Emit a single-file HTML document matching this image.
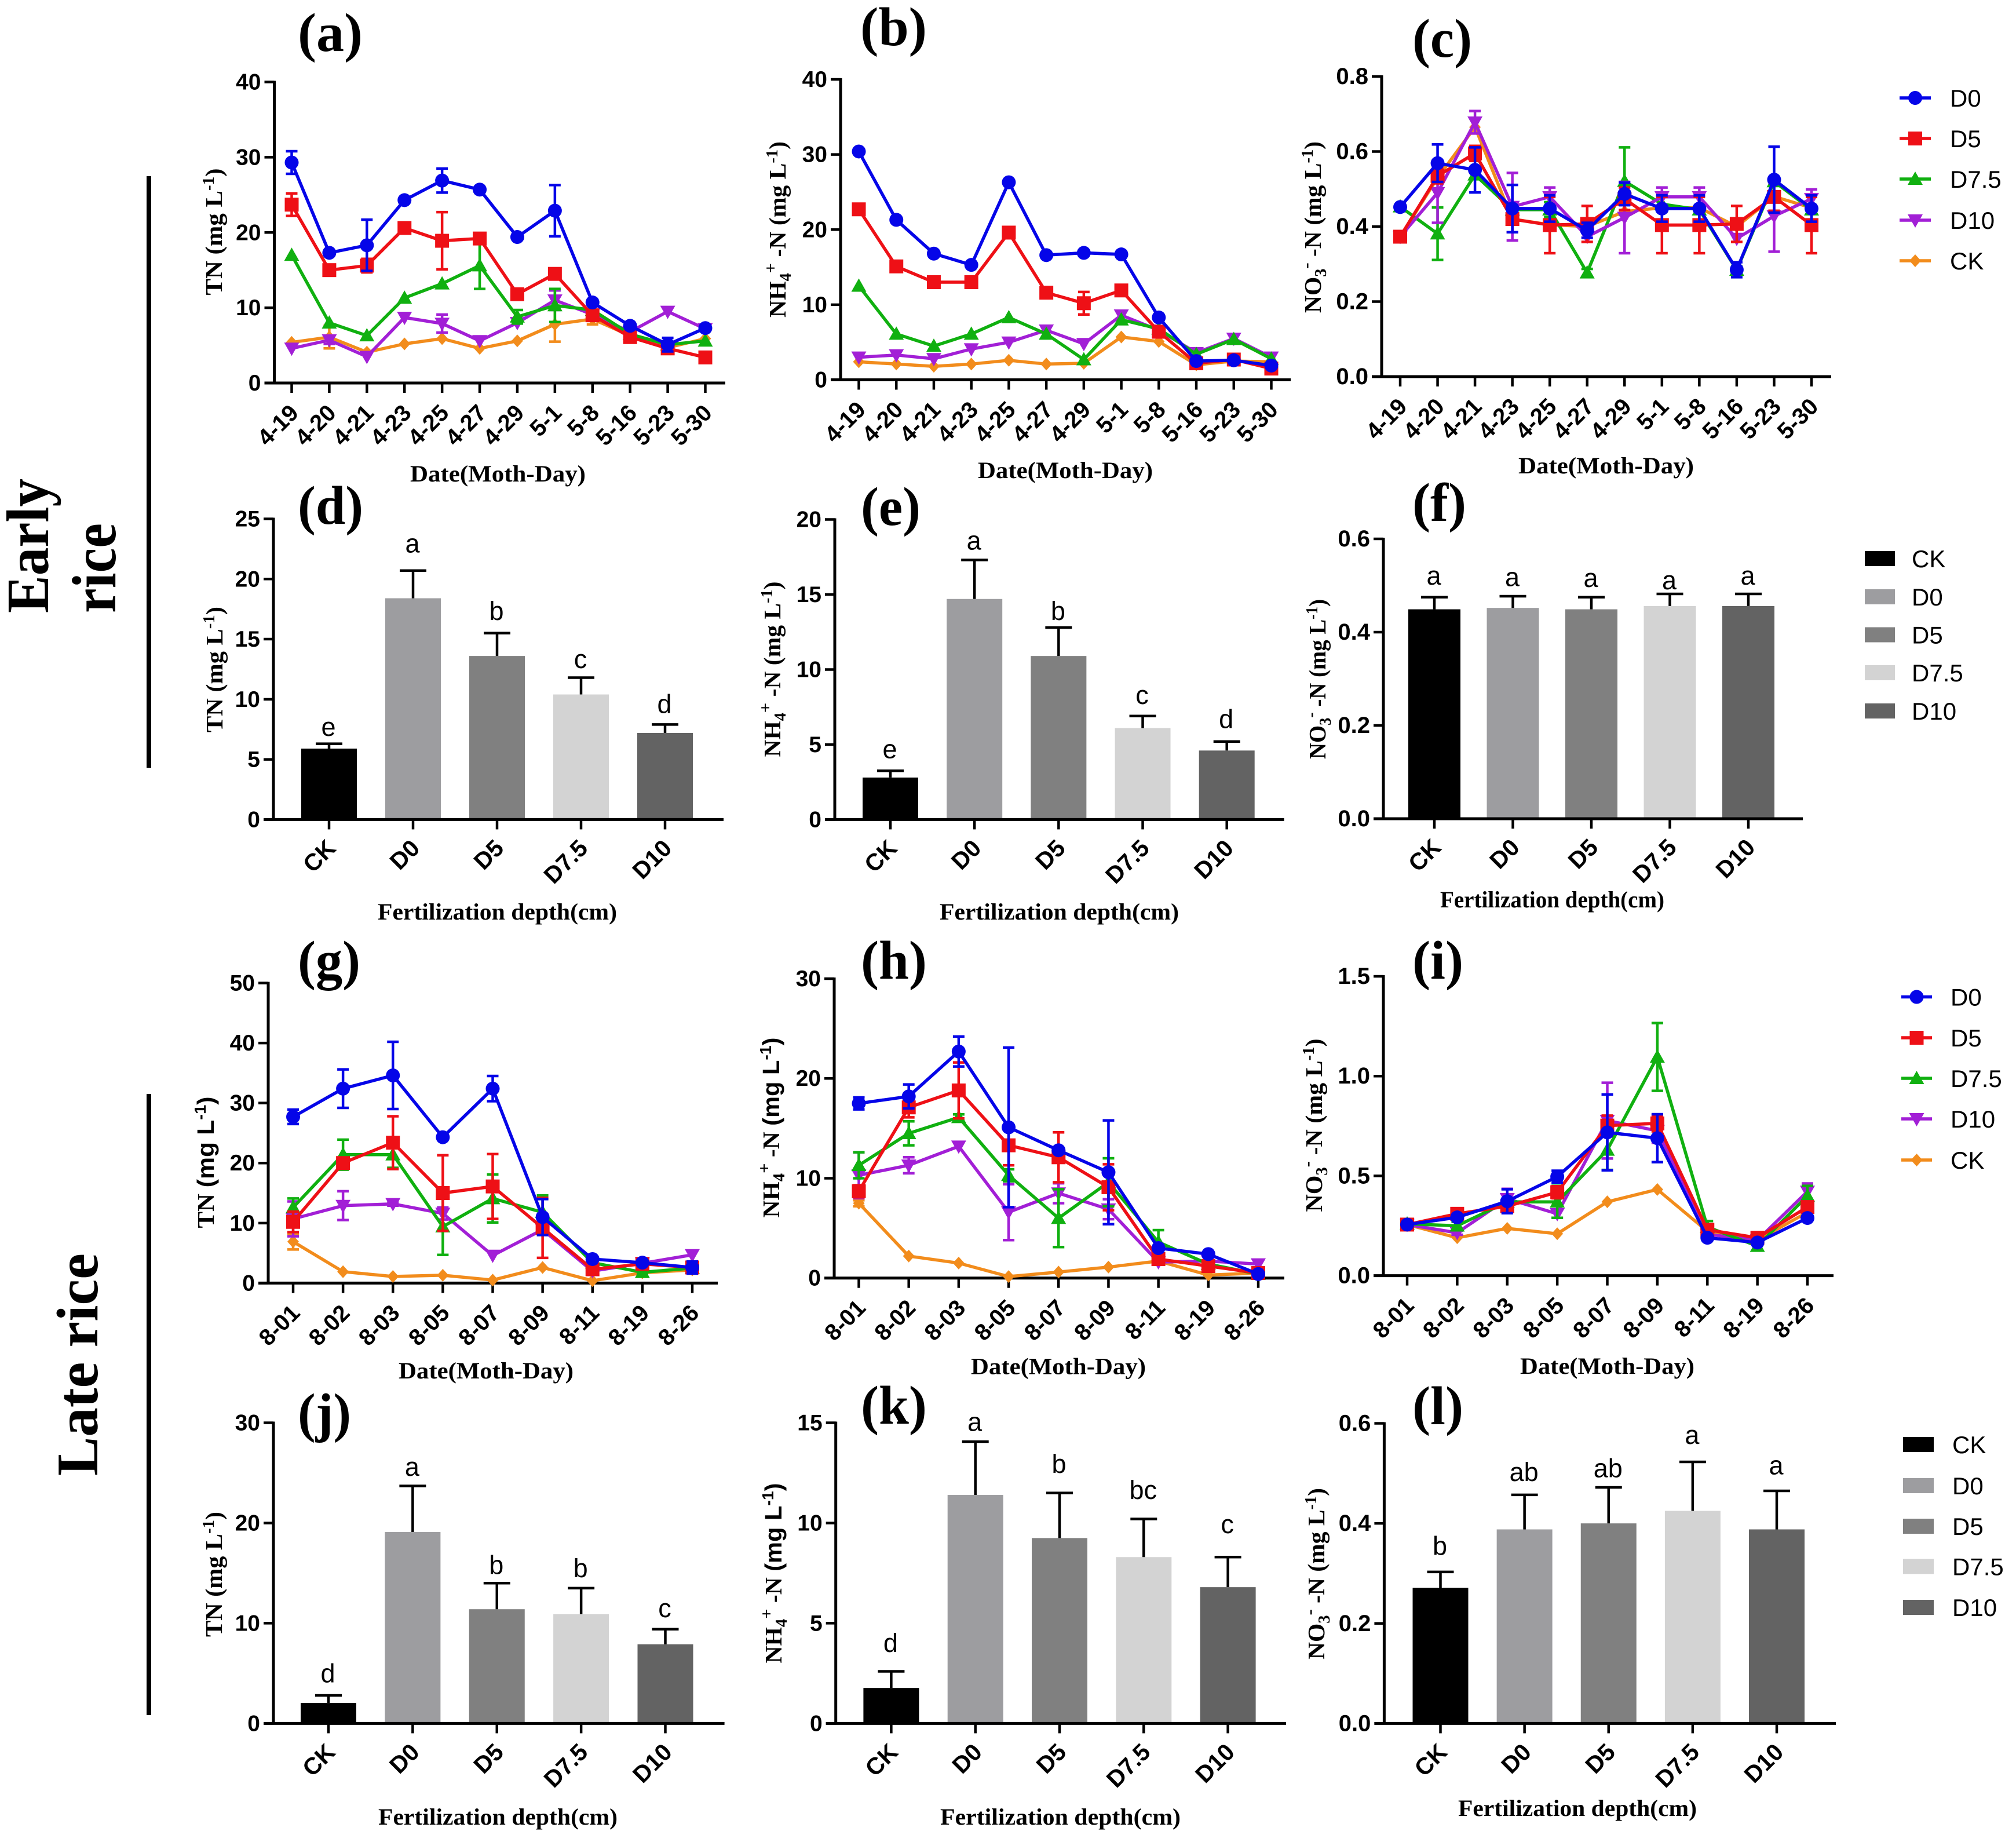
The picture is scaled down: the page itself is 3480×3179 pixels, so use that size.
<!DOCTYPE html>
<html lang="en">
<head>
<meta charset="utf-8">
<title>Nitrogen concentrations under fertilization depths</title>
<style>
html,body{margin:0;padding:0;background:#fff;}
svg{display:block;}
</style>
</head>
<body>
<svg id="figure" xmlns="http://www.w3.org/2000/svg" width="3480" height="3179" viewBox="0 0 3480 3179">
<rect x="0" y="0" width="3480" height="3179" fill="#ffffff"/>
<rect x="253" y="304" width="8" height="1021" fill="#000"/>
<rect x="253" y="1888" width="8" height="1072" fill="#000"/>
<text transform="rotate(-90 83 1058)" x="83" y="1058" font-family="'Liberation Serif',serif" font-weight="bold" font-size="104" textLength="232" lengthAdjust="spacingAndGlyphs">Early</text>
<text transform="rotate(-90 199 1058)" x="199" y="1058" font-family="'Liberation Serif',serif" font-weight="bold" font-size="108" textLength="155" lengthAdjust="spacingAndGlyphs">rice</text>
<text transform="rotate(-90 168 2547)" x="168" y="2547" font-family="'Liberation Serif',serif" font-weight="bold" font-size="102" textLength="384" lengthAdjust="spacingAndGlyphs">Late rice</text>
</svg>
<script>
// ---------- Shared categories ----------
const earlyDates = ['4-19','4-20','4-21','4-23','4-25','4-27','4-29','5-1','5-8','5-16','5-23','5-30'];
const lateDates = ['8-01','8-02','8-03','8-05','8-07','8-09','8-11','8-19','8-26'];
const barCategories = ['CK','D0','D5','D7.5','D10'];
const lineLegendNames = ['D0','D5','D7.5','D10','CK'];

// ---------- Tick labels ----------
const ticksA = ['0','10','20','30','40'];
const ticksB = ['0','10','20','30','40'];
const ticksC = ['0.0','0.2','0.4','0.6','0.8'];
const ticksD = ['0','5','10','15','20','25'];
const ticksE = ['0','5','10','15','20'];
const ticksF = ['0.0','0.2','0.4','0.6'];
const ticksG = ['0','10','20','30','40','50'];
const ticksH = ['0','10','20','30'];
const ticksI = ['0.0','0.5','1.0','1.5'];
const ticksJ = ['0','10','20','30'];
const ticksK = ['0','5','10','15'];
const ticksL = ['0.0','0.2','0.4','0.6'];

// ---------- Panel (a) TN early ----------
const aD0 = [29.3,17.3,18.3,24.3,26.9,25.7,19.4,22.9,10.7,7.6,5.1,7.3];
const aD5 = [23.7,15.0,15.6,20.6,18.9,19.2,11.8,14.5,9.0,6.1,4.6,3.4];
const aD75 = [17.0,8.0,6.3,11.3,13.2,15.6,8.8,10.3,9.7,6.5,5.1,5.6];
const aD10 = [4.6,5.7,3.5,8.7,7.9,5.6,8.0,11.0,9.1,6.8,9.5,7.2];
const aCK = [5.4,6.1,4.1,5.2,5.9,4.6,5.6,7.8,8.5,6.3,4.7,5.9];
const aErrD0 = [1.5,0,3.4,0,1.6,0,0,3.4,0,0,0.9,0];
const aErrD5 = [1.5,0.6,0.9,0,3.8,0,0,0,0.7,0,0,0];
const aErrD75 = [0,0,0,0,0,3.1,0.9,2.2,0,0,0,0];
const aErrD10 = [0,0.5,0,0,1.2,0,0,1.3,0,0,0,0];
const aErrCK = [0,1.5,0,0,0,0,0,2.3,0.7,0,0,0];

// ---------- Panel (b) NH4 early ----------
const bD0 = [30.4,21.3,16.8,15.3,26.3,16.6,16.9,16.7,8.3,2.5,2.6,1.9];
const bD5 = [22.7,15.1,13.0,13.0,19.6,11.6,10.2,11.9,6.4,2.2,2.7,1.5];
const bD75 = [12.5,6.1,4.5,6.1,8.3,6.1,2.7,8.0,6.8,3.4,5.4,2.8];
const bD10 = [3.0,3.3,2.8,4.1,5.0,6.6,4.8,8.6,6.6,3.6,5.5,3.0];
const bCK = [2.4,2.1,1.8,2.1,2.6,2.1,2.2,5.7,5.1,2.0,2.5,2.4];
const bErrD0 = [0,0,0,0,0,0,0,0,0,0,0,0];
const bErrD5 = [0,0,0,0,0,0,1.5,0,0,0,0,0];
const bErrD75 = [0,0,0,0,0,0,0,0,0,0,0,0];
const bErrD10 = [0,0,0,0,0,0,0,0,0,0,0,0];
const bErrCK = [0,0,0,0,0,0,0,0,0,0,0,0];

// ---------- Panel (c) NO3 early ----------
const cD0 = [0.452,0.569,0.551,0.448,0.448,0.39,0.487,0.448,0.448,0.285,0.525,0.448];
const cD5 = [0.373,0.535,0.595,0.42,0.404,0.407,0.474,0.404,0.404,0.407,0.479,0.404];
const cD75 = [0.453,0.381,0.538,0.445,0.445,0.277,0.521,0.46,0.445,0.284,0.52,0.445];
const cD10 = [0.373,0.49,0.678,0.453,0.479,0.373,0.424,0.479,0.479,0.368,0.428,0.474];
const cCK = [0.373,0.53,0.665,0.42,0.405,0.40,0.44,0.45,0.45,0.40,0.48,0.45];
const cErrD0 = [0,0.05,0.06,0.063,0.035,0.02,0.03,0.035,0.035,0.02,0.088,0.035];
const cErrD5 = [0.01,0.02,0.02,0.035,0.075,0.048,0.03,0.075,0.075,0.048,0.037,0.075];
const cErrD75 = [0,0.07,0,0,0.02,0.01,0.09,0.02,0,0.01,0,0];
const cErrD10 = [0,0.08,0.03,0.09,0.025,0,0.095,0.025,0.025,0,0.095,0.025];
const cErrCK = [0,0,0,0,0,0,0,0,0,0,0,0];

// ---------- Panel (g) TN late ----------
const gD0 = [27.7,32.4,34.6,24.3,32.4,11.0,4.0,3.4,2.6];
const gD5 = [10.2,20.0,23.4,15.0,16.1,9.2,2.3,3.2,2.6];
const gD75 = [12.6,21.4,21.4,9.4,14.1,11.8,3.4,1.8,2.5];
const gD10 = [10.7,12.9,13.2,11.6,4.6,8.9,2.0,3.3,4.7];
const gCK = [6.9,1.9,1.1,1.3,0.5,2.6,0.4,1.7,2.2];
const gErrD0 = [1.2,3.2,5.6,0,2.1,3.0,0,0,1.0];
const gErrD5 = [1.7,0.5,4.4,6.3,5.4,5.0,0,0,1.0];
const gErrD75 = [1.5,2.5,2.2,4.7,4.0,2.8,0,0.3,0];
const gErrD10 = [2.9,2.4,0.3,1.0,0,0.7,0,0,0];
const gErrCK = [1.3,0,0,0,0,0,0,0,0];

// ---------- Panel (h) NH4 late ----------
const hD0 = [17.5,18.2,22.7,15.1,12.8,10.6,3.0,2.4,0.4];
const hD5 = [8.7,17.1,18.8,13.3,12.1,9.1,1.9,1.2,0.5];
const hD75 = [11.3,14.5,16.1,10.3,6.0,9.6,3.6,1.4,0.4];
const hD10 = [10.3,11.3,13.2,6.6,8.5,6.9,1.6,1.7,1.4];
const hCK = [7.5,2.2,1.5,0.15,0.6,1.1,1.7,0.3,0.5];
const hErrD0 = [0.6,1.2,1.5,8.0,0,5.2,0,0,0];
const hErrD5 = [0.6,1.0,2.8,2.0,2.5,2.3,0.3,0.3,0];
const hErrD75 = [1.3,1.2,0.3,0.6,2.9,2.4,1.2,0,0];
const hErrD10 = [2.3,0.8,0,2.8,1.0,1.0,0,0,0];
const hErrCK = [0.3,0,0,0,0,0,0.3,0,0];

// ---------- Panel (i) NO3 late ----------
const iD0 = [0.256,0.292,0.373,0.496,0.718,0.689,0.19,0.166,0.289];
const iD5 = [0.256,0.31,0.348,0.418,0.752,0.763,0.23,0.19,0.344];
const iD75 = [0.26,0.25,0.37,0.37,0.63,1.096,0.244,0.148,0.40];
const iD10 = [0.256,0.215,0.385,0.31,0.777,0.726,0.207,0.178,0.422];
const iCK = [0.256,0.19,0.237,0.21,0.37,0.432,0.222,0.178,0.318];
const iErrD0 = [0,0.01,0.06,0.03,0.19,0.12,0,0,0];
const iErrD5 = [0,0.01,0.01,0.03,0.05,0.04,0,0,0];
const iErrD75 = [0,0.02,0.01,0.08,0.10,0.17,0.03,0.02,0.05];
const iErrD10 = [0,0.01,0.05,0.02,0.19,0.06,0,0,0.04];
const iErrCK = [0,0,0,0,0,0,0,0,0];

// ---------- Bar panels: means, upper error limits, significance letters ----------
const dMeans = [5.9,18.4,13.6,10.4,7.2];
const dUpper = [6.3,20.7,15.5,11.8,7.9];
const dLetters = ['e','a','b','c','d'];
const dLetterLevels = [6.96,22.2,16.6,12.6,8.85];

const eMeans = [2.8,14.7,10.9,6.1,4.6];
const eUpper = [3.25,17.3,12.8,6.9,5.2];
const eLetters = ['e','a','b','c','d'];
const eLetterLevels = [4.08,18.0,13.3,7.7,6.1];

const fMeans = [0.449,0.452,0.449,0.456,0.456];
const fUpper = [0.475,0.477,0.475,0.482,0.482];
const fLetters = ['a','a','a','a','a'];
const fLetterLevels = [0.502,0.499,0.497,0.492,0.502];

const jMeans = [2.04,19.1,11.4,10.9,7.9];
const jUpper = [2.8,23.7,14.0,13.5,9.4];
const jLetters = ['d','a','b','b','c'];
const jLetterLevels = [4.1,24.7,14.9,14.6,10.6];

const kMeans = [1.77,11.4,9.25,8.3,6.8];
const kUpper = [2.6,14.06,11.5,10.2,8.3];
const kLetters = ['d','a','b','bc','c'];
const kLetterLevels = [3.57,14.6,12.5,11.2,9.5];

const lMeans = [0.271,0.388,0.40,0.425,0.388];
const lUpper = [0.303,0.457,0.472,0.523,0.465];
const lLetters = ['b','ab','ab','a','a'];
const lLetterLevels = [0.337,0.485,0.492,0.559,0.498];

// ---------- Styles ----------
const lineStyles = {
  D0:{color:'#0505e8',marker:'circle'},
  D5:{color:'#ee1016',marker:'square'},
  'D7.5':{color:'#10b010',marker:'up'},
  D10:{color:'#a21fd6',marker:'down'},
  CK:{color:'#f28c1c',marker:'diamond'}
};
const barFills = {CK:'#000000',D0:'#9d9da0',D5:'#808080','D7.5':'#d3d3d3',D10:'#636363'};

const svg = document.getElementById('figure');
const NS = 'http://www.w3.org/2000/svg';
const SERIF = "'Liberation Serif',serif";
const SANS = "'Liberation Sans',sans-serif";

function mk(tag, attrs, parent) {
  const node = document.createElementNS(NS, tag);
  for (const k in attrs) node.setAttribute(k, attrs[k]);
  parent.appendChild(node);
  return node;
}

function drawMarker(parent, kind, cx, cy, color) {
  let m;
  if (kind === 'circle') m = mk('circle', {cx:cx, cy:cy, r:12, fill:color}, parent);
  else if (kind === 'square') m = mk('rect', {x:cx-12, y:cy-12, width:24, height:24, fill:color}, parent);
  else if (kind === 'up') m = mk('polygon', {points:`${cx-13},${cy+10} ${cx+13},${cy+10} ${cx},${cy-13}`, fill:color}, parent);
  else if (kind === 'down') m = mk('polygon', {points:`${cx-13},${cy-10} ${cx+13},${cy-10} ${cx},${cy+13}`, fill:color}, parent);
  else m = mk('polygon', {points:`${cx-10},${cy} ${cx},${cy-11} ${cx+10},${cy} ${cx},${cy+11}`, fill:color}, parent);
  return m;
}

function drawAxes(g, box, ticks, yOf, tickSize) {
  const xAxis = mk('line', {x1:box.axisX-17, x2:box.xEnd, y1:box.y0, y2:box.y0, stroke:'#000', 'stroke-width':5}, g);
  
  
  const yAxis = mk('line', {x1:box.axisX, x2:box.axisX, y1:box.y0+2, y2:box.yTop-2, stroke:'#000', 'stroke-width':5}, g);
  
  
  ticks.forEach(function (label) {
    const y = yOf(Number(label));
    const t = mk('line', {x1:box.axisX-17, x2:box.axisX, y1:y, y2:y, stroke:'#000', 'stroke-width':4.5}, g);
    
    
    const txt = mk('text', {x:box.axisX-23, y:y+13, 'text-anchor':'end', 'font-family':SANS, 'font-weight':'bold', 'font-size':tickSize}, g);
    txt.textContent = label;
    
    
  });
}

function drawXTick(g, x, y0, label, size, dx, dy) {
  const t = mk('line', {x1:x, x2:x, y1:y0, y2:y0+17, stroke:'#000', 'stroke-width':4.5}, g);
  
  
  const lx = x + dx, ly = y0 + dy;
  const txt = mk('text', {x:lx, y:ly, 'text-anchor':'end', transform:`rotate(-45 ${lx} ${ly})`, 'font-family':SANS, 'font-weight':'bold', 'font-size':size}, g);
  txt.textContent = label;
  
  
}

function drawPanelLetter(g, text, p) {
  const t = mk('text', {x:p.x, y:p.y, 'font-family':SERIF, 'font-weight':'bold', 'font-size':94, textLength:p.w, lengthAdjust:'spacingAndGlyphs'}, g);
  t.textContent = text;
  
  
}

function drawXTitle(g, text, p) {
  const t = mk('text', {x:p.x, y:p.y, 'font-family':SERIF, 'font-weight':'bold', 'font-size':40, textLength:p.w, lengthAdjust:'spacingAndGlyphs'}, g);
  t.textContent = text;
  
  
}

function drawYTitle(g, species, p, sansUnit) {
  const t = mk('text', {x:p.x, y:p.c, 'text-anchor':'middle', transform:`rotate(-90 ${p.x} ${p.c})`, 'font-family':SERIF, 'font-weight':'bold', 'font-size':41, textLength:p.l, lengthAdjust:'spacingAndGlyphs'}, g);
  
  
  function seg(text, dy, size, fam) {
    const s = mk('tspan', {}, t);
    if (dy) s.setAttribute('dy', dy);
    if (size) s.setAttribute('font-size', size);
    if (fam) s.setAttribute('font-family', fam);
    s.textContent = text;
  }
  if (species === 'TN') seg('TN ');
  if (species === 'NH4') { seg('NH'); seg('4', 9, 28); seg('+', -25, 30); seg(' -N ', 16); }
  if (species === 'NO3') { seg('NO'); seg('3', 9, 28); seg('-', -25, 30); seg(' -N ', 16); }
  const fam = sansUnit ? SANS : SERIF;
  seg('(mg L', 0, 0, fam);
  seg('-1', -14, 28, fam);
  seg(')', 14, 0, fam);
}

function drawLinePanel(cfg) {
  const g = mk('g', {}, svg);
  
  
  const b = cfg.box;
  const n = cfg.cats.length;
  const xOf = function (i) { return b.xFirst + (b.xLast - b.xFirst) * i / (n - 1); };
  const yOf = function (v) { return b.y0 + (b.yTop - b.y0) * v / cfg.yMax; };
  drawAxes(g, b, cfg.ticks, yOf, cfg.tickSize);
  cfg.cats.forEach(function (c, i) { drawXTick(g, xOf(i), b.y0, c, 40, 14, 54); });
  cfg.series.forEach(function (s) {
    const style = lineStyles[s.key];
    const sg = mk('g', {}, g);
    
    
    s.vals.forEach(function (v, i) {
      const e = s.errs[i];
      if (!e) return;
      const x = xOf(i), top = yOf(v + e), bot = yOf(Math.max(0, v - e));
      const bar = mk('path', {d:`M${x-10} ${top}H${x+10}M${x} ${top}V${bot}M${x-10} ${bot}H${x+10}`, fill:'none', stroke:style.color, 'stroke-width':4.5}, sg);
      
      
    });
    const pts = s.vals.map(function (v, i) { return xOf(i).toFixed(1) + ',' + yOf(v).toFixed(1); }).join(' ');
    const line = mk('polyline', {points:pts, fill:'none', stroke:style.color, 'stroke-width':5.5, 'stroke-linejoin':'round'}, sg);
    
    
    s.vals.forEach(function (v, i) {
      const m = drawMarker(sg, style.marker, xOf(i), yOf(v), style.color);
      
      
    });
  });
  drawPanelLetter(g, cfg.letter, cfg.letterPos);
  drawXTitle(g, 'Date(Moth-Day)', cfg.xTitle);
  drawYTitle(g, cfg.species, cfg.yTitle, cfg.sansUnit);
}

function drawBarPanel(cfg) {
  const g = mk('g', {}, svg);
  
  
  const b = cfg.box;
  const n = barCategories.length;
  const xOf = function (i) { return b.xFirst + (b.xLast - b.xFirst) * i / (n - 1); };
  const yOf = function (v) { return b.y0 + (b.yTop - b.y0) * v / cfg.yMax; };
  barCategories.forEach(function (c, i) {
    const cx = xOf(i);
    const top = yOf(cfg.means[i]);
    const rect = mk('rect', {x:cx-b.barW/2, y:top, width:b.barW, height:b.y0-top, fill:barFills[c]}, g);
    
    
    const upper = yOf(cfg.upper[i]);
    const err = mk('path', {d:`M${cx} ${top}V${upper}M${cx-23} ${upper}H${cx+23}`, fill:'none', stroke:'#000', 'stroke-width':4.5}, g);
    
    
    const lt = mk('text', {x:cx-1, y:yOf(cfg.levels[i]), 'text-anchor':'middle', 'font-family':SANS, 'font-size':45}, g);
    lt.textContent = cfg.letters[i];
    
    
  });
  drawAxes(g, b, cfg.ticks, yOf, cfg.tickSize);
  barCategories.forEach(function (c, i) { drawXTick(g, xOf(i), b.y0, c, 41, 14, 52); });
  drawPanelLetter(g, cfg.letter, cfg.letterPos);
  drawXTitle(g, 'Fertilization depth(cm)', cfg.xTitle);
  drawYTitle(g, cfg.species, cfg.yTitle, cfg.sansUnit);
}

function drawLineLegend(layout) {
  const g = mk('g', {}, svg);
  
  
  lineLegendNames.forEach(function (name, i) {
    const style = lineStyles[name];
    const y = layout.ys[i];
    const item = mk('g', {}, g);
    
    
    mk('line', {x1:layout.x1, x2:layout.x2, y1:y, y2:y, stroke:style.color, 'stroke-width':5.5}, item);
    drawMarker(item, style.marker, (layout.x1 + layout.x2) / 2, y, style.color);
    const t = mk('text', {x:layout.tx, y:y+15, 'font-family':SANS, 'font-size':42}, item);
    t.textContent = name;
  });
}

function drawBarLegend(layout) {
  const g = mk('g', {}, svg);
  
  
  barCategories.forEach(function (name, i) {
    const y = layout.ys[i];
    const item = mk('g', {}, g);
    
    
    mk('rect', {x:layout.x, y:y-13, width:layout.w, height:26, fill:barFills[name]}, item);
    const t = mk('text', {x:layout.tx, y:y+15, 'font-family':SANS, 'font-size':42}, item);
    t.textContent = name;
  });
}

// Series are painted back to front: CK, D10, D7.5, D5, D0.
drawLinePanel({name:'panel-a-tn-early', letter:'(a)', cats:earlyDates, yMax:40, ticks:ticksA, tickSize:39, species:'TN',
  box:{axisX:473.5, yTop:141.5, y0:661, xEnd:1252, xFirst:503.5, xLast:1217.5},
  letterPos:{x:514, y:88, w:112}, xTitle:{x:708, y:831, w:303}, yTitle:{x:383, c:400, l:219},
  series:[{key:'CK',vals:aCK,errs:aErrCK},{key:'D10',vals:aD10,errs:aErrD10},{key:'D7.5',vals:aD75,errs:aErrD75},{key:'D5',vals:aD5,errs:aErrD5},{key:'D0',vals:aD0,errs:aErrD0}]});
drawLinePanel({name:'panel-b-nh4-early', letter:'(b)', cats:earlyDates, yMax:40, ticks:ticksB, tickSize:39, species:'NH4',
  box:{axisX:1451, yTop:137, y0:655.5, xEnd:2228, xFirst:1482.5, xLast:2194.5},
  letterPos:{x:1485, y:78, w:115}, xTitle:{x:1688, y:825, w:302}, yTitle:{x:1356, c:396, l:304},
  series:[{key:'CK',vals:bCK,errs:bErrCK},{key:'D10',vals:bD10,errs:bErrD10},{key:'D7.5',vals:bD75,errs:bErrD75},{key:'D5',vals:bD5,errs:bErrD5},{key:'D0',vals:bD0,errs:bErrD0}]});
drawLinePanel({name:'panel-c-no3-early', letter:'(c)', cats:earlyDates, yMax:0.8, ticks:ticksC, tickSize:40, species:'NO3',
  box:{axisX:2385, yTop:132, y0:650, xEnd:3161, xFirst:2417, xLast:3127},
  letterPos:{x:2438, y:98, w:103}, xTitle:{x:2621, y:817, w:303}, yTitle:{x:2280, c:392, l:296},
  series:[{key:'CK',vals:cCK,errs:cErrCK},{key:'D7.5',vals:cD75,errs:cErrD75},{key:'D10',vals:cD10,errs:cErrD10},{key:'D5',vals:cD5,errs:cErrD5},{key:'D0',vals:cD0,errs:cErrD0}]});
drawLineLegend({name:'legend-lines-early', x1:3279, x2:3333, tx:3366, ys:[169,239,309,380,450]});

drawBarPanel({name:'panel-d-tn-early', letter:'(d)', means:dMeans, upper:dUpper, letters:dLetters, levels:dLetterLevels, yMax:25, ticks:ticksD, tickSize:39, species:'TN',
  box:{axisX:472, yTop:895.5, y0:1414.4, xEnd:1249, xFirst:568, xLast:1148, barW:96},
  letterPos:{x:514, y:904, w:113}, xTitle:{x:652, y:1587, w:413}, yTitle:{x:384, c:1155.5, l:217}});
drawBarPanel({name:'panel-e-nh4-early', letter:'(e)', means:eMeans, upper:eUpper, letters:eLetters, levels:eLetterLevels, yMax:20, ticks:ticksE, tickSize:39, species:'NH4',
  box:{axisX:1441, yTop:896.5, y0:1414.4, xEnd:2216.6, xFirst:1537, xLast:2117.7, barW:96},
  letterPos:{x:1486, y:906, w:103}, xTitle:{x:1622, y:1587, w:413}, yTitle:{x:1347, c:1155, l:303}});
drawBarPanel({name:'panel-f-no3-early', letter:'(f)', means:fMeans, upper:fUpper, letters:fLetters, levels:fLetterLevels, yMax:0.6, ticks:ticksF, tickSize:40, species:'NO3',
  box:{axisX:2388, yTop:930, y0:1413, xEnd:3112, xFirst:2476, xLast:3018, barW:90},
  letterPos:{x:2438, y:899, w:93}, xTitle:{x:2486, y:1566, w:387}, yTitle:{x:2288, c:1172, l:276}});
drawBarLegend({name:'legend-bars-early', x:3219, w:52, tx:3300, ys:[964,1030,1095.5,1161,1227]});

drawLinePanel({name:'panel-g-tn-late', letter:'(g)', cats:lateDates, yMax:50, ticks:ticksG, tickSize:39, species:'TN', sansUnit:true,
  box:{axisX:463, yTop:1696.5, y0:2214.4, xEnd:1239, xFirst:506, xLast:1195},
  letterPos:{x:514, y:1689, w:108}, xTitle:{x:688, y:2379, w:302}, yTitle:{x:369, c:2006, l:227},
  series:[{key:'CK',vals:gCK,errs:gErrCK},{key:'D10',vals:gD10,errs:gErrD10},{key:'D7.5',vals:gD75,errs:gErrD75},{key:'D5',vals:gD5,errs:gErrD5},{key:'D0',vals:gD0,errs:gErrD0}]});
drawLinePanel({name:'panel-h-nh4-late', letter:'(h)', cats:lateDates, yMax:30, ticks:ticksH, tickSize:39, species:'NH4', sansUnit:true,
  box:{axisX:1440, yTop:1689, y0:2205.7, xEnd:2217, xFirst:1482.5, xLast:2172},
  letterPos:{x:1486, y:1689, w:114}, xTitle:{x:1676, y:2371.5, w:302}, yTitle:{x:1345, c:1946, l:311},
  series:[{key:'CK',vals:hCK,errs:hErrCK},{key:'D10',vals:hD10,errs:hErrD10},{key:'D7.5',vals:hD75,errs:hErrD75},{key:'D5',vals:hD5,errs:hErrD5},{key:'D0',vals:hD0,errs:hErrD0}]});
drawLinePanel({name:'panel-i-no3-late', letter:'(i)', cats:lateDates, yMax:1.5, ticks:ticksI, tickSize:40, species:'NO3',
  box:{axisX:2388, yTop:1685, y0:2201.6, xEnd:3165, xFirst:2429, xLast:3120},
  letterPos:{x:2438, y:1689, w:88}, xTitle:{x:2624, y:2371, w:301}, yTitle:{x:2282, c:1942, l:299},
  series:[{key:'CK',vals:iCK,errs:iErrCK},{key:'D10',vals:iD10,errs:iErrD10},{key:'D7.5',vals:iD75,errs:iErrD75},{key:'D5',vals:iD5,errs:iErrD5},{key:'D0',vals:iD0,errs:iErrD0}]});
drawLineLegend({name:'legend-lines-late', x1:3282, x2:3335, tx:3367, ys:[1720.5,1791,1861,1931,2002]});

drawBarPanel({name:'panel-j-tn-late', letter:'(j)', means:jMeans, upper:jUpper, letters:jLetters, levels:jLetterLevels, yMax:30, ticks:ticksJ, tickSize:39, species:'TN',
  box:{axisX:472, yTop:2455.5, y0:2974.4, xEnd:1250.6, xFirst:567, xLast:1148.5, barW:96},
  letterPos:{x:514, y:2470, w:92}, xTitle:{x:653, y:3149, w:413}, yTitle:{x:383, c:2717, l:216}});
drawBarPanel({name:'panel-k-nh4-late', letter:'(k)', means:kMeans, upper:kUpper, letters:kLetters, levels:kLetterLevels, yMax:15, ticks:ticksK, tickSize:39, species:'NH4', sansUnit:true,
  box:{axisX:1442.7, yTop:2455.5, y0:2974.4, xEnd:2220, xFirst:1538.4, xLast:2119.6, barW:96},
  letterPos:{x:1486, y:2457, w:114}, xTitle:{x:1623, y:3149, w:415}, yTitle:{x:1349, c:2715, l:311}});
drawBarPanel({name:'panel-l-no3-late', letter:'(l)', means:lMeans, upper:lUpper, letters:lLetters, levels:lLetterLevels, yMax:0.6, ticks:ticksL, tickSize:40, species:'NO3',
  box:{axisX:2389.4, yTop:2456.5, y0:2974.4, xEnd:3169, xFirst:2486.5, xLast:3067, barW:96},
  letterPos:{x:2438, y:2458, w:88}, xTitle:{x:2517, y:3134, w:412}, yTitle:{x:2286, c:2716, l:296}});
drawBarLegend({name:'legend-bars-late', x:3285, w:53, tx:3370, ys:[2493,2564,2634,2703.5,2774]});
</script>
</body>
</html>
